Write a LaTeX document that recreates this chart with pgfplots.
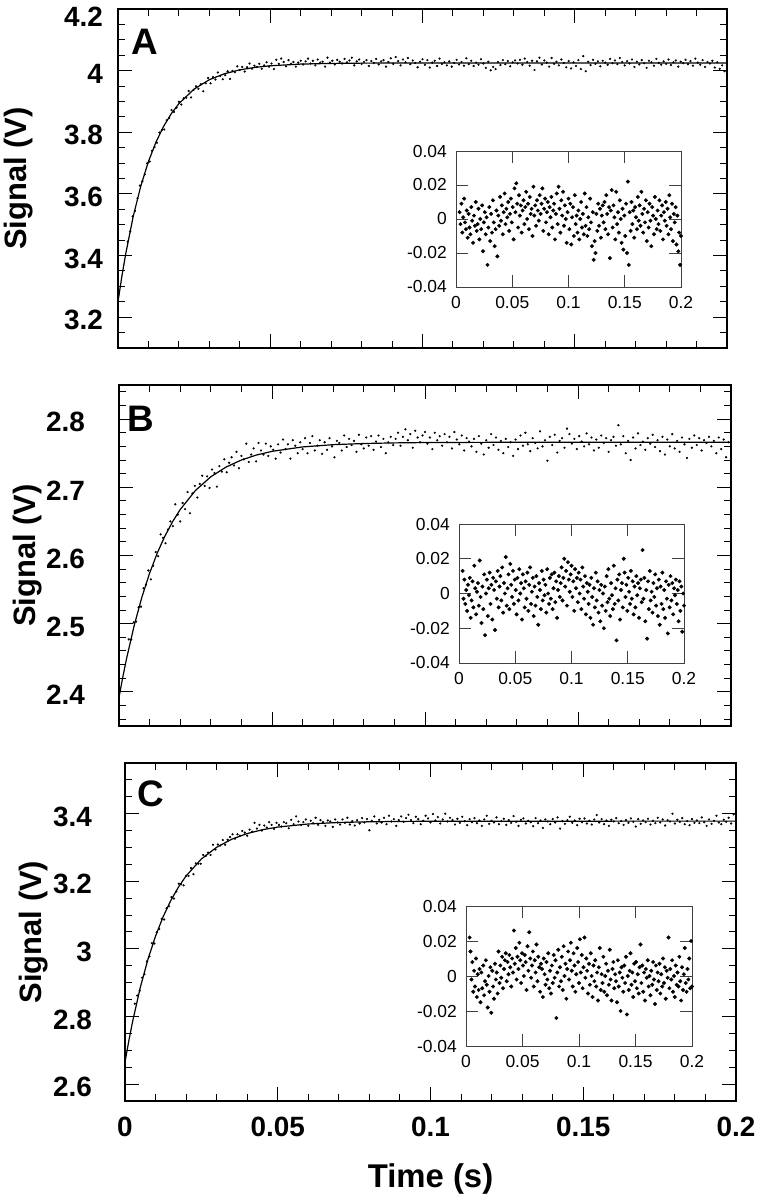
\documentclass[border=0pt]{standalone}
\usepackage{fontspec}
\setmainfont{Liberation Sans}
\usepackage{pgfplots}
\usepackage{pgfplotstable}
\pgfplotsset{compat=1.18}

\pgfplotstableread[row sep=\\]{
t r y\\
0.0032 0.004 3.445\\ 0.0040 -0.003 3.478\\ 0.0048 0.009 3.527\\ 0.0056 -0.008 3.545\\ 0.0064 0.001 3.586\\
0.0072 0.012 3.627\\ 0.0080 -0.002 3.641\\ 0.0088 -0.006 3.663\\ 0.0096 0.005 3.699\\ 0.0104 -0.011 3.705\\
0.0112 0.003 3.740\\ 0.0120 -0.005 3.752\\ 0.0128 -0.009 3.766\\ 0.0136 0.007 3.799\\ 0.0144 -0.001 3.807\\
0.0152 -0.014 3.809\\ 0.0160 0.002 3.839\\ 0.0168 -0.004 3.846\\ 0.0176 0.010 3.872\\ 0.0184 -0.007 3.866\\
0.0192 -0.003 3.880\\ 0.0200 0.006 3.899\\ 0.0208 -0.012 3.890\\ 0.0216 0 3.910\\ 0.0224 -0.006 3.912\\
0.0232 0.008 3.934\\ 0.0240 -0.019 3.913\\ 0.0248 -0.002 3.937\\ 0.0256 0.004 3.949\\ 0.0264 -0.009 3.941\\
0.0272 0.001 3.956\\ 0.0280 -0.027 3.933\\ 0.0288 -0.005 3.959\\ 0.0296 0.007 3.976\\ 0.0304 -0.013 3.959\\
0.0312 0.003 3.979\\ 0.0320 -0.008 3.971\\ 0.0328 0.011 3.994\\ 0.0336 -0.002 3.983\\ 0.0344 -0.016 3.972\\
0.0352 -0.006 3.985\\ 0.0360 0.005 3.998\\ 0.0368 -0.022 3.973\\ 0.0376 0.002 3.999\\ 0.0384 -0.004 3.995\\
0.0392 0.013 4.014\\ 0.0400 -0.001 4.002\\ 0.0408 0.008 4.012\\ 0.0416 -0.009 3.997\\ 0.0424 0.004 4.011\\
0.0432 0.015 4.023\\ 0.0440 -0.003 4.006\\ 0.0448 0.006 4.016\\ 0.0456 0.001 4.012\\ 0.0464 0.010 4.022\\
0.0472 -0.007 4.006\\ 0.0480 0.003 4.017\\ 0.0488 0.012 4.027\\ 0.0496 -0.002 4.013\\ 0.0504 0.007 4.023\\
0.0512 -0.012 4.005\\ 0.0520 0.018 4.035\\ 0.0528 0.004 4.022\\ 0.0536 0.021 4.039\\ 0.0544 0.009 4.028\\
0.0552 -0.005 4.014\\ 0.0560 0.014 4.034\\ 0.0568 0.002 4.022\\ 0.0576 0.008 4.028\\ 0.0584 -0.008 4.013\\
0.0592 0.005 4.026\\ 0.0600 0.011 4.032\\ 0.0608 -0.003 4.020\\ 0.0616 0.007 4.030\\ 0.0624 0.016 4.039\\
0.0632 0 4.023\\ 0.0640 0.009 4.032\\ 0.0648 -0.006 4.017\\ 0.0656 0.013 4.036\\ 0.0664 0.003 4.026\\
0.0672 0.006 4.029\\ 0.0680 -0.010 4.013\\ 0.0688 0.019 4.042\\ 0.0696 0.002 4.026\\ 0.0704 0.008 4.032\\
0.0712 -0.004 4.020\\ 0.0720 0.011 4.035\\ 0.0728 0.005 4.029\\ 0.0736 -0.001 4.023\\ 0.0744 0.014 4.038\\
0.0752 0.003 4.027\\ 0.0760 0.009 4.033\\ 0.0768 0.018 4.042\\ 0.0776 -0.007 4.017\\ 0.0784 0.006 4.030\\
0.0792 0.012 4.036\\ 0.0800 -0.002 4.022\\ 0.0808 0.004 4.028\\ 0.0816 0.010 4.034\\ 0.0824 -0.009 4.015\\
0.0832 0.007 4.031\\ 0.0840 0.001 4.025\\ 0.0848 0.013 4.038\\ 0.0856 -0.005 4.020\\ 0.0864 0.005 4.030\\
0.0872 0.009 4.034\\ 0.0880 -0.012 4.013\\ 0.0888 0.003 4.028\\ 0.0896 0.015 4.040\\ 0.0904 -0.003 4.022\\
0.0912 0.019 4.044\\ 0.0920 0.006 4.031\\ 0.0928 -0.008 4.017\\ 0.0936 0.011 4.036\\ 0.0944 0.002 4.027\\
0.0952 0.016 4.041\\ 0.0960 -0.004 4.021\\ 0.0968 0.008 4.033\\ 0.0976 0 4.025\\ 0.0984 -0.014 4.011\\
0.0992 0.004 4.029\\ 0.1000 0.012 4.037\\ 0.1008 -0.006 4.019\\ 0.1016 0.009 4.034\\ 0.1024 -0.015 4.010\\
0.1032 0.001 4.026\\ 0.1040 0.007 4.032\\ 0.1048 -0.010 4.015\\ 0.1056 0.014 4.039\\ 0.1064 -0.003 4.022\\
0.1072 0.002 4.027\\ 0.1080 -0.008 4.017\\ 0.1088 0.005 4.030\\ 0.1096 -0.012 4.013\\ 0.1104 0 4.025\\
0.1112 0.010 4.035\\ 0.1120 -0.005 4.020\\ 0.1128 0.003 4.028\\ 0.1136 -0.009 4.016\\ 0.1144 0.015 4.040\\
0.1152 -0.004 4.021\\ 0.1160 0.007 4.032\\ 0.1168 -0.010 4.015\\ 0.1176 0.001 4.026\\ 0.1184 -0.006 4.019\\
0.1192 0.012 4.037\\ 0.1200 -0.002 4.023\\ 0.1208 -0.016 4.009\\ 0.1216 0.004 4.029\\ 0.1224 -0.024 4.001\\
0.1232 -0.013 4.012\\ 0.1240 -0.020 4.005\\ 0.1248 0.003 4.028\\ 0.1256 -0.007 4.018\\ 0.1264 0.009 4.034\\
0.1272 -0.004 4.021\\ 0.1280 0.006 4.031\\ 0.1288 -0.011 4.014\\ 0.1296 0.002 4.027\\ 0.1304 0.008 4.033\\
0.1312 -0.002 4.023\\ 0.1320 0.010 4.035\\ 0.1328 -0.006 4.019\\ 0.1336 0.014 4.039\\ 0.1344 0.003 4.028\\
0.1352 -0.009 4.016\\ 0.1360 0.007 4.032\\ 0.1368 -0.023 4.002\\ 0.1376 0.005 4.030\\ 0.1384 0.017 4.042\\
0.1392 -0.005 4.020\\ 0.1400 0.008 4.033\\ 0.1408 0.001 4.026\\ 0.1416 -0.012 4.013\\ 0.1424 0.016 4.041\\
0.1432 -0.003 4.022\\ 0.1440 0.004 4.029\\ 0.1448 -0.008 4.017\\ 0.1456 0.011 4.036\\ 0.1464 0 4.025\\
0.1472 -0.014 4.011\\ 0.1480 0.006 4.031\\ 0.1488 -0.018 4.007\\ 0.1496 0.002 4.027\\ 0.1504 -0.010 4.015\\
0.1512 0.009 4.034\\ 0.1520 -0.020 4.005\\ 0.1528 0.022 4.047\\ 0.1536 -0.027 3.998\\ 0.1544 0.004 4.029\\
0.1552 -0.007 4.018\\ 0.1560 0.010 4.035\\ 0.1568 -0.003 4.022\\ 0.1576 0.005 4.030\\ 0.1584 -0.011 4.014\\
0.1592 0.007 4.032\\ 0.1600 0.001 4.026\\ 0.1608 -0.006 4.019\\ 0.1616 0.013 4.038\\ 0.1624 -0.001 4.024\\
0.1632 0.008 4.033\\ 0.1640 -0.004 4.021\\ 0.1648 0.016 4.041\\ 0.1656 0.003 4.028\\ 0.1664 -0.008 4.017\\
0.1672 0.006 4.031\\ 0.1680 -0.002 4.023\\ 0.1688 0.011 4.036\\ 0.1696 -0.013 4.012\\ 0.1704 0.004 4.029\\
0.1712 -0.005 4.020\\ 0.1720 0.009 4.034\\ 0.1728 -0.001 4.024\\ 0.1736 -0.016 4.009\\ 0.1744 0.007 4.032\\
0.1752 0.002 4.027\\ 0.1760 -0.009 4.016\\ 0.1768 0.013 4.038\\ 0.1776 0 4.025\\ 0.1784 -0.006 4.019\\
0.1792 0.005 4.030\\ 0.1800 -0.003 4.022\\ 0.1808 0.011 4.036\\ 0.1816 -0.007 4.018\\ 0.1824 0.002 4.027\\
0.1832 0.008 4.033\\ 0.1840 -0.012 4.013\\ 0.1848 0.004 4.029\\ 0.1856 -0.001 4.024\\ 0.1864 0.010 4.035\\
0.1872 -0.004 4.021\\ 0.1880 0.006 4.031\\ 0.1888 -0.009 4.016\\ 0.1896 0.014 4.039\\ 0.1904 0.001 4.026\\
0.1912 -0.006 4.019\\ 0.1920 0.009 4.034\\ 0.1928 -0.013 4.012\\ 0.1936 0.003 4.028\\ 0.1944 -0.002 4.023\\
0.1952 0.007 4.032\\ 0.1960 -0.015 4.010\\ 0.1968 0.002 4.027\\ 0.1976 -0.019 4.006\\ 0.1984 -0.008 4.017\\
0.1992 -0.027 3.998\\ 0.2000 -0.010 4.015\\
}\tabA

\pgfplotstableread[row sep=\\]{
t r y\\
0.0032 0.013 2.477\\ 0.0040 -0.003 2.477\\ 0.0048 0.008 2.502\\ 0.0056 -0.006 2.503\\ 0.0064 0.002 2.524\\
0.0072 -0.010 2.525\\ 0.0080 0.005 2.552\\ 0.0088 -0.001 2.557\\ 0.0096 0.009 2.578\\ 0.0104 -0.014 2.565\\
0.0112 -0.004 2.585\\ 0.0120 0.007 2.605\\ 0.0128 -0.008 2.599\\ 0.0136 0.016 2.631\\ 0.0144 0.003 2.626\\
0.0152 -0.012 2.618\\ 0.0160 0.001 2.638\\ 0.0168 0.006 2.650\\ 0.0176 -0.007 2.643\\ 0.0184 0.019 2.675\\
0.0192 -0.002 2.660\\ 0.0200 -0.017 2.650\\ 0.0208 0.004 2.677\\ 0.0216 -0.009 2.668\\ 0.0224 0.011 2.693\\
0.0232 -0.024 2.662\\ 0.0240 0 2.691\\ 0.0248 0.008 2.702\\ 0.0256 -0.013 2.685\\ 0.0264 0.003 2.705\\
0.0272 0.012 2.717\\ 0.0280 -0.006 2.702\\ 0.0288 0.005 2.716\\ 0.0296 -0.015 2.699\\ 0.0304 0.009 2.726\\
0.0312 0.002 2.721\\ 0.0320 -0.021 2.701\\ 0.0328 0.007 2.731\\ 0.0336 -0.003 2.723\\ 0.0344 0.013 2.741\\
0.0352 -0.008 2.722\\ 0.0360 0.004 2.736\\ 0.0368 0.010 2.744\\ 0.0376 -0.004 2.732\\ 0.0384 0.015 2.752\\
0.0392 -0.011 2.728\\ 0.0400 0.006 2.746\\ 0.0408 0 2.741\\ 0.0416 0.021 2.764\\ 0.0424 -0.007 2.737\\
0.0432 0.003 2.748\\ 0.0440 0.011 2.757\\ 0.0448 -0.009 2.738\\ 0.0456 0.017 2.765\\ 0.0464 0.005 2.754\\
0.0472 -0.002 2.748\\ 0.0480 0.013 2.764\\ 0.0488 -0.006 2.746\\ 0.0496 0.008 2.760\\ 0.0504 0.002 2.755\\
0.0512 -0.012 2.742\\ 0.0520 0.009 2.763\\ 0.0528 -0.004 2.751\\ 0.0536 0.014 2.770\\ 0.0544 0 2.756\\
0.0552 0.006 2.763\\ 0.0560 -0.015 2.742\\ 0.0568 0.011 2.769\\ 0.0576 0.003 2.761\\ 0.0584 -0.008 2.750\\
0.0592 0.007 2.766\\ 0.0600 -0.003 2.756\\ 0.0608 0.012 2.772\\ 0.0616 -0.010 2.750\\ 0.0624 0.005 2.765\\
0.0632 0.015 2.775\\ 0.0640 -0.006 2.754\\ 0.0648 0.001 2.761\\ 0.0656 0.009 2.769\\ 0.0664 -0.013 2.749\\
0.0672 0.004 2.766\\ 0.0680 -0.007 2.755\\ 0.0688 0.010 2.772\\ 0.0696 -0.002 2.760\\ 0.0704 -0.018 2.744\\
0.0712 0.006 2.768\\ 0.0720 0.002 2.765\\ 0.0728 -0.009 2.754\\ 0.0736 0.013 2.776\\ 0.0744 -0.004 2.759\\
0.0752 0.008 2.771\\ 0.0760 -0.001 2.762\\ 0.0768 0.005 2.768\\ 0.0776 -0.011 2.752\\ 0.0784 0.014 2.777\\
0.0792 0 2.763\\ 0.0800 -0.006 2.757\\ 0.0808 0.009 2.773\\ 0.0816 -0.003 2.761\\ 0.0824 0.011 2.775\\
0.0832 -0.009 2.755\\ 0.0840 0.003 2.767\\ 0.0848 0.012 2.776\\ 0.0856 -0.005 2.759\\ 0.0864 0.007 2.771\\
0.0872 -0.014 2.750\\ 0.0880 0.002 2.766\\ 0.0888 0.010 2.774\\ 0.0896 -0.002 2.762\\ 0.0904 0.006 2.771\\
0.0912 0.015 2.780\\ 0.0920 -0.004 2.761\\ 0.0928 0.009 2.774\\ 0.0936 0.020 2.785\\ 0.0944 0.004 2.769\\
0.0952 0.013 2.778\\ 0.0960 -0.007 2.758\\ 0.0968 0.018 2.783\\ 0.0976 0.008 2.773\\ 0.0984 0.001 2.766\\
0.0992 0.011 2.776\\ 0.1000 0.016 2.781\\ 0.1008 -0.002 2.764\\ 0.1016 0.007 2.773\\ 0.1024 -0.010 2.756\\
0.1032 0.014 2.780\\ 0.1040 0.003 2.769\\ 0.1048 0.009 2.775\\ 0.1056 -0.005 2.761\\ 0.1064 0.012 2.778\\
0.1072 0 2.766\\ 0.1080 0.008 2.774\\ 0.1088 -0.009 2.757\\ 0.1096 0.015 2.781\\ 0.1104 0.004 2.770\\
0.1112 -0.003 2.763\\ 0.1120 0.010 2.776\\ 0.1128 -0.012 2.754\\ 0.1136 0.006 2.772\\ 0.1144 0.001 2.767\\
0.1152 -0.006 2.760\\ 0.1160 0.005 2.771\\ 0.1168 -0.014 2.752\\ 0.1176 0.009 2.775\\ 0.1184 -0.002 2.764\\
0.1192 -0.018 2.748\\ 0.1200 0.003 2.769\\ 0.1208 -0.008 2.758\\ 0.1216 0.012 2.778\\ 0.1224 -0.004 2.762\\
0.1232 0.007 2.773\\ 0.1240 -0.011 2.755\\ 0.1248 0.002 2.768\\ 0.1256 -0.016 2.750\\ 0.1264 0.005 2.771\\
0.1272 -0.007 2.759\\ 0.1280 0 2.766\\ 0.1288 -0.020 2.746\\ 0.1296 0.004 2.770\\ 0.1304 -0.010 2.756\\
0.1312 0.010 2.776\\ 0.1320 -0.005 2.761\\ 0.1328 0.014 2.780\\ 0.1336 -0.003 2.763\\ 0.1344 -0.013 2.753\\
0.1352 0.006 2.772\\ 0.1360 -0.001 2.765\\ 0.1368 -0.009 2.757\\ 0.1376 0.016 2.782\\ 0.1384 -0.006 2.760\\
0.1392 0.003 2.769\\ 0.1400 -0.027 2.739\\ 0.1408 0.008 2.774\\ 0.1416 -0.004 2.762\\ 0.1424 0.011 2.777\\
0.1432 -0.015 2.751\\ 0.1440 0.002 2.768\\ 0.1448 0.006 2.772\\ 0.1456 -0.008 2.758\\ 0.1464 0.020 2.786\\
0.1472 0.012 2.778\\ 0.1480 -0.002 2.764\\ 0.1488 0.005 2.771\\ 0.1496 -0.010 2.756\\ 0.1504 0.009 2.775\\
0.1512 0.001 2.767\\ 0.1520 -0.006 2.760\\ 0.1528 0.013 2.779\\ 0.1536 -0.003 2.763\\ 0.1544 0.007 2.773\\
0.1552 -0.012 2.754\\ 0.1560 0.004 2.770\\ 0.1568 -0.008 2.758\\ 0.1576 0.010 2.776\\ 0.1584 -0.001 2.765\\
0.1592 0.006 2.772\\ 0.1600 -0.014 2.752\\ 0.1608 0.003 2.769\\ 0.1616 0.008 2.774\\ 0.1624 -0.005 2.761\\
0.1632 0.025 2.791\\ 0.1640 -0.003 2.763\\ 0.1648 0.009 2.775\\ 0.1656 -0.016 2.750\\ 0.1664 0.002 2.768\\
0.1672 -0.026 2.740\\ 0.1680 0.007 2.773\\ 0.1688 -0.009 2.757\\ 0.1696 0.013 2.779\\ 0.1704 -0.004 2.762\\
0.1712 0.001 2.767\\ 0.1720 -0.011 2.755\\ 0.1728 0.006 2.772\\ 0.1736 -0.002 2.764\\ 0.1744 0.011 2.777\\
0.1752 -0.007 2.759\\ 0.1760 0.003 2.769\\ 0.1768 -0.013 2.753\\ 0.1776 0.008 2.774\\ 0.1784 -0.018 2.748\\
0.1792 0.004 2.770\\ 0.1800 -0.006 2.760\\ 0.1808 0.012 2.778\\ 0.1816 -0.009 2.757\\ 0.1824 0.002 2.768\\
0.1832 -0.014 2.752\\ 0.1840 0.007 2.773\\ 0.1848 -0.003 2.763\\ 0.1856 -0.023 2.743\\ 0.1864 0.005 2.771\\
0.1872 -0.008 2.758\\ 0.1880 0.010 2.776\\ 0.1888 -0.004 2.762\\ 0.1896 0.006 2.772\\ 0.1904 -0.012 2.754\\
0.1912 0.003 2.769\\ 0.1920 -0.001 2.765\\ 0.1928 0.008 2.774\\ 0.1936 -0.006 2.760\\ 0.1944 0.002 2.768\\
0.1952 -0.016 2.750\\ 0.1960 0.007 2.773\\ 0.1968 -0.010 2.756\\ 0.1976 0.004 2.770\\ 0.1984 -0.022 2.744\\
0.1992 0 2.766\\ 0.2000 -0.007 2.759\\
}\tabB

\pgfplotstableread[row sep=\\]{
t r y\\
0.0032 0.022 2.838\\ 0.0040 0.014 2.862\\ 0.0048 -0.002 2.876\\ 0.0056 0.008 2.915\\ 0.0064 -0.009 2.925\\
0.0072 0.003 2.963\\ 0.0080 -0.006 2.978\\ 0.0088 0.010 3.017\\ 0.0096 -0.012 3.016\\ 0.0104 0.001 3.049\\
0.0112 -0.008 3.059\\ 0.0120 0.004 3.089\\ 0.0128 -0.015 3.087\\ 0.0136 0.002 3.120\\ 0.0144 -0.007 3.126\\
0.0152 0.006 3.153\\ 0.0160 -0.011 3.149\\ 0.0168 -0.003 3.170\\ 0.0176 0.009 3.193\\ 0.0184 -0.005 3.191\\
0.0192 -0.018 3.188\\ 0.0200 0 3.216\\ 0.0208 -0.009 3.216\\ 0.0216 0.005 3.239\\ 0.0224 -0.021 3.221\\
0.0232 0.003 3.253\\ 0.0240 -0.006 3.252\\ 0.0248 -0.013 3.252\\ 0.0256 0.007 3.278\\ 0.0264 -0.002 3.275\\
0.0272 0.002 3.285\\ 0.0280 -0.010 3.278\\ 0.0288 0.014 3.308\\ 0.0296 -0.004 3.294\\ 0.0304 0.006 3.309\\
0.0312 -0.001 3.306\\ 0.0320 0.011 3.322\\ 0.0328 -0.007 3.308\\ 0.0336 0.004 3.323\\ 0.0344 0.009 3.331\\
0.0352 0.013 3.339\\ 0.0360 -0.003 3.326\\ 0.0368 0.008 3.339\\ 0.0376 0.001 3.335\\ 0.0384 0.012 3.349\\
0.0392 0.005 3.344\\ 0.0400 -0.006 3.335\\ 0.0408 0.010 3.353\\ 0.0416 0.002 3.347\\ 0.0424 0.026 3.373\\
0.0432 0.007 3.356\\ 0.0440 0.016 3.367\\ 0.0448 -0.002 3.350\\ 0.0456 0.011 3.365\\ 0.0464 0.004 3.359\\
0.0472 0.019 3.375\\ 0.0480 0.009 3.367\\ 0.0488 -0.004 3.355\\ 0.0496 0.013 3.373\\ 0.0504 0.006 3.367\\
0.0512 0 3.362\\ 0.0520 0.012 3.375\\ 0.0528 0.008 3.372\\ 0.0536 -0.008 3.357\\ 0.0544 0.017 3.382\\
0.0552 0.003 3.369\\ 0.0560 0.025 3.392\\ 0.0568 0.010 3.377\\ 0.0576 -0.001 3.367\\ 0.0584 0.006 3.375\\
0.0592 0.014 3.383\\ 0.0600 -0.006 3.364\\ 0.0608 0.009 3.379\\ 0.0616 0.002 3.372\\ 0.0624 0.018 3.388\\
0.0632 -0.003 3.367\\ 0.0640 0.011 3.381\\ 0.0648 0.005 3.375\\ 0.0656 -0.009 3.364\\ 0.0664 0.007 3.380\\
0.0672 0.004 3.377\\ 0.0680 -0.012 3.361\\ 0.0688 0.010 3.383\\ 0.0696 0.001 3.374\\ 0.0704 -0.005 3.368\\
0.0712 0.008 3.383\\ 0.0720 -0.002 3.373\\ 0.0728 0.013 3.388\\ 0.0736 -0.007 3.368\\ 0.0744 0.003 3.378\\
0.0752 -0.010 3.365\\ 0.0760 0.006 3.381\\ 0.0768 -0.004 3.371\\ 0.0776 0.012 3.387\\ 0.0784 -0.001 3.374\\
0.0792 0.009 3.384\\ 0.0800 -0.024 3.351\\ 0.0808 0.002 3.379\\ 0.0816 0.015 3.392\\ 0.0824 -0.006 3.371\\
0.0832 0.005 3.382\\ 0.0840 -0.003 3.374\\ 0.0848 0.011 3.388\\ 0.0856 -0.008 3.369\\ 0.0864 0.017 3.394\\
0.0872 0 3.377\\ 0.0880 0.007 3.384\\ 0.0888 -0.013 3.364\\ 0.0896 0.004 3.381\\ 0.0904 0.014 3.392\\
0.0912 -0.002 3.376\\ 0.0920 0.009 3.387\\ 0.0928 0.019 3.397\\ 0.0936 0.003 3.381\\ 0.0944 -0.006 3.372\\
0.0952 0.013 3.391\\ 0.0960 0.006 3.384\\ 0.0968 -0.009 3.369\\ 0.0976 0.001 3.379\\ 0.0984 0.016 3.394\\
0.0992 0.008 3.386\\ 0.1000 -0.004 3.374\\ 0.1008 0.021 3.399\\ 0.1016 0.002 3.380\\ 0.1024 0.012 3.390\\
0.1032 -0.007 3.371\\ 0.1040 0.005 3.383\\ 0.1048 0.022 3.400\\ 0.1056 -0.001 3.377\\ 0.1064 0.010 3.388\\
0.1072 0.003 3.381\\ 0.1080 -0.010 3.368\\ 0.1088 0.007 3.385\\ 0.1096 -0.005 3.373\\ 0.1104 0.013 3.391\\
0.1112 0 3.378\\ 0.1120 -0.012 3.366\\ 0.1128 0.006 3.384\\ 0.1136 -0.003 3.375\\ 0.1144 0.009 3.387\\
0.1152 -0.006 3.372\\ 0.1160 0.002 3.380\\ 0.1168 -0.014 3.364\\ 0.1176 0.005 3.383\\ 0.1184 0.016 3.394\\
0.1192 -0.008 3.370\\ 0.1200 0.001 3.379\\ 0.1208 -0.004 3.374\\ 0.1216 0.011 3.389\\ 0.1224 -0.009 3.369\\
0.1232 0 3.378\\ 0.1240 0.007 3.385\\ 0.1248 -0.011 3.367\\ 0.1256 0.003 3.381\\ 0.1264 -0.005 3.373\\
0.1272 0.015 3.393\\ 0.1280 -0.002 3.376\\ 0.1288 -0.014 3.364\\ 0.1296 0.004 3.382\\ 0.1304 0.008 3.386\\
0.1312 -0.007 3.371\\ 0.1320 0.001 3.379\\ 0.1328 -0.003 3.375\\ 0.1336 -0.015 3.363\\ 0.1344 0.009 3.387\\
0.1352 -0.006 3.372\\ 0.1360 0.002 3.380\\ 0.1368 -0.020 3.358\\ 0.1376 0.005 3.383\\ 0.1384 -0.001 3.377\\
0.1392 -0.009 3.369\\ 0.1400 0.006 3.384\\ 0.1408 -0.004 3.374\\ 0.1416 0.011 3.389\\ 0.1424 -0.022 3.356\\
0.1432 0 3.378\\ 0.1440 -0.008 3.370\\ 0.1448 0.003 3.381\\ 0.1456 0.013 3.391\\ 0.1464 -0.005 3.373\\
0.1472 0.002 3.380\\ 0.1480 -0.012 3.366\\ 0.1488 0.007 3.385\\ 0.1496 -0.003 3.375\\ 0.1504 0.008 3.386\\
0.1512 -0.007 3.371\\ 0.1520 0.001 3.379\\ 0.1528 -0.010 3.368\\ 0.1536 0.005 3.383\\ 0.1544 0.018 3.396\\
0.1552 -0.004 3.374\\ 0.1560 0.006 3.384\\ 0.1568 -0.009 3.369\\ 0.1576 0.002 3.380\\ 0.1584 -0.014 3.364\\
0.1592 0.004 3.382\\ 0.1600 -0.001 3.377\\ 0.1608 0.009 3.387\\ 0.1616 -0.006 3.372\\ 0.1624 0 3.378\\
0.1632 -0.011 3.367\\ 0.1640 0.003 3.381\\ 0.1648 -0.005 3.373\\ 0.1656 0.008 3.386\\ 0.1664 -0.002 3.376\\
0.1672 -0.016 3.362\\ 0.1680 0.006 3.384\\ 0.1688 -0.008 3.370\\ 0.1696 0.002 3.380\\ 0.1704 -0.003 3.375\\
0.1712 0.007 3.385\\ 0.1720 -0.010 3.368\\ 0.1728 0.001 3.379\\ 0.1736 -0.006 3.372\\ 0.1744 0.010 3.388\\
0.1752 -0.004 3.374\\ 0.1760 0.005 3.383\\ 0.1768 -0.013 3.365\\ 0.1776 0.003 3.381\\ 0.1784 -0.001 3.377\\
0.1792 0.022 3.400\\ 0.1800 -0.007 3.371\\ 0.1808 0.004 3.382\\ 0.1816 -0.002 3.376\\ 0.1824 0.009 3.387\\
0.1832 -0.009 3.369\\ 0.1840 0 3.378\\ 0.1848 -0.012 3.366\\ 0.1856 0.006 3.384\\ 0.1864 -0.005 3.373\\
0.1872 0.002 3.380\\ 0.1880 -0.006 3.372\\ 0.1888 0.011 3.389\\ 0.1896 -0.003 3.375\\ 0.1904 -0.014 3.364\\
0.1912 0.005 3.383\\ 0.1920 -0.008 3.370\\ 0.1928 0.001 3.379\\ 0.1936 0.016 3.394\\ 0.1944 -0.004 3.374\\
0.1952 -0.009 3.369\\ 0.1960 0.004 3.382\\ 0.1968 -0.002 3.376\\ 0.1976 0.010 3.388\\ 0.1984 -0.007 3.371\\
0.1992 0.020 3.398\\ 0.2000 -0.006 3.372\\
}\tabC

\pgfplotsset{
  mainax/.style={
    scale only axis, xmin=0, xmax=0.2, clip=false,
    scaled ticks=false,
    axis line style={line width=1.2bp},
    tick style={line width=1bp, black},
    major tick length=14bp, minor tick length=7bp,
    tick align=inside,
    xtick={0,0.05,0.1,0.15,0.2},
    minor xtick={0.01,0.02,0.03,0.04,0.06,0.07,0.08,0.09,0.11,0.12,0.13,0.14,0.16,0.17,0.18,0.19},
    xticklabels={},
    tick label style={font=\bfseries\fontsize{28}{28}\selectfont},
    yticklabel style={anchor=east, inner sep=0pt, xshift=-15bp, yshift=-3bp},
    xticklabel style={anchor=north, inner sep=0pt, yshift=-16bp},
    ylabel={Signal (V)},
    ylabel style={font=\bfseries\fontsize{31}{31}\selectfont, anchor=center},
  },
  inax/.style={
    scale only axis, xmin=0, xmax=0.2, ymin=-0.04, ymax=0.04, clip=false,
    scaled ticks=false, scaled y ticks=false, scaled x ticks=false,
    axis line style={line width=0.7bp, black!75},
    tick style={line width=0.7bp, black!75},
    major tick length=12bp, tick align=inside,
    xtick={0,0.05,0.1,0.15,0.2}, xticklabels={0,0.05,0.1,0.15,0.2},
    ytick={-0.04,-0.02,0,0.02,0.04}, yticklabels={-0.04,-0.02,0,0.02,0.04},
    tick label style={font=\fontsize{17.5}{17.5}\selectfont},
    yticklabel style={anchor=east, inner sep=0pt, xshift=-9bp},
    xticklabel style={anchor=north, inner sep=0pt, yshift=-9bp},
  },
  dots/.style={only marks, mark=*, black, mark size=0.9bp, mark options={draw=none}},
  indots/.style={only marks, mark=*, black, mark size=1.8bp, mark options={draw=none}},
  fit/.style={black, line width=1.2bp, no marks},
}

\begin{document}
\begin{tikzpicture}
\path[use as bounding box] (0,0) rectangle (758bp,1200bp);

% ---------- Panel A ----------
\begin{axis}[mainax, at={(118bp,852bp)}, anchor=south west, width=609bp, height=339bp,
  ymin=3.1, ymax=4.2,
  ytick={3.2,3.4,3.6,3.8,4,4.2}, yticklabels={3.2,3.4,3.6,3.8,4,\raisebox{-14.5bp}[0pt][0pt]{4.2}},
  minor ytick={3.15,3.25,3.3,3.35,3.45,3.5,3.55,3.65,3.7,3.75,3.85,3.9,3.95,4.05,4.1,4.15},
  ylabel style={at={(axis description cs:-0.164,0.5)}}]
\addplot[dots] table[x=t,y=y]{\tabA};
\addplot[fit] coordinates {(0,3.250) (0.00125,3.3311) (0.0025,3.4037) (0.005,3.5271) (0.0075,3.6259) (0.01,3.7052) (0.0125,3.7686) (0.015,3.8195) (0.0175,3.8603) (0.02,3.8930) (0.025,3.9402) (0.03,3.9705) (0.035,3.9900) (0.04,4.0025) (0.045,4.0105) (0.05,4.0157) (0.06,4.0212) (0.07,4.0234) (0.08,4.0243) (0.1,4.0249) (0.2,4.025)};
\node[font=\bfseries\fontsize{37}{37}\selectfont, inner sep=0pt] at (rel axis cs:0.0443,0.904) {A};
\end{axis}

% ---------- Panel B ----------
\begin{axis}[mainax, at={(119bp,474bp)}, anchor=south west, width=612bp, height=341bp,
  ymin=2.35, ymax=2.85,
  ytick={2.4,2.5,2.6,2.7,2.8}, yticklabels={2.4,2.5,2.6,2.7,2.8},
  minor ytick={2.36,2.38,2.42,2.44,2.46,2.48,2.52,2.54,2.56,2.58,2.62,2.64,2.66,2.68,2.72,2.74,2.76,2.78,2.82,2.84},
  yticklabel style={xshift=-19bp},
  ylabel style={at={(axis description cs:-0.150,0.5)}}]
\addplot[dots] table[x=t,y=y]{\tabB};
\addplot[fit] coordinates {(0,2.392) (0.00125,2.4219) (0.0025,2.4494) (0.005,2.4980) (0.0075,2.5392) (0.01,2.5740) (0.0125,2.6035) (0.015,2.6284) (0.0175,2.6495) (0.02,2.6674) (0.025,2.6954) (0.03,2.7154) (0.035,2.7297) (0.04,2.7400) (0.045,2.7474) (0.05,2.7527) (0.06,2.7592) (0.07,2.7625) (0.08,2.7642) (0.09,2.7651) (0.1,2.7656) (0.12,2.7659) (0.2,2.766)};
\node[font=\bfseries\fontsize{37}{37}\selectfont, inner sep=0pt] at (rel axis cs:0.036,0.902) {B};
\end{axis}

% ---------- Panel C ----------
\begin{axis}[mainax, at={(125bp,99bp)}, anchor=south west, width=611bp, height=338bp,
  ymin=2.55, ymax=3.55,
  ytick={2.6,2.8,3,3.2,3.4}, yticklabels={2.6,2.8,3,3.2,3.4},
  minor ytick={2.65,2.7,2.75,2.85,2.9,2.95,3.05,3.1,3.15,3.25,3.3,3.35,3.45,3.5},
  xticklabels={0,0.05,0.1,0.15,0.2},
  yticklabel style={xshift=-18bp},
  ylabel style={at={(axis description cs:-0.149,0.5)}},
  xlabel={Time (s)},
  xlabel style={font=\bfseries\fontsize{33}{33}\selectfont, at={(axis description cs:0.5,-0.231)}, anchor=center}]
\addplot[dots] table[x=t,y=y]{\tabC};
\addplot[fit] coordinates {(0,2.665) (0.00125,2.7280) (0.0025,2.7855) (0.005,2.8857) (0.0075,2.9689) (0.01,3.0380) (0.0125,3.0955) (0.015,3.1433) (0.0175,3.1830) (0.02,3.2159) (0.025,3.2661) (0.03,3.3007) (0.035,3.3247) (0.04,3.3412) (0.045,3.3526) (0.05,3.3604) (0.06,3.3696) (0.07,3.3740) (0.08,3.3761) (0.09,3.3771) (0.1,3.3776) (0.12,3.3779) (0.2,3.378)};
\node[font=\bfseries\fontsize{37}{37}\selectfont, inner sep=0pt] at (rel axis cs:0.0426,0.910) {C};
\end{axis}

% ---------- Insets ----------
\begin{axis}[inax, at={(456bp,913bp)}, anchor=south west, width=225bp, height=136bp]
\addplot[indots] table[x=t,y=r]{\tabA};
\end{axis}
\begin{axis}[inax, at={(459bp,537bp)}, anchor=south west, width=225bp, height=139bp]
\addplot[indots] table[x=t,y=r]{\tabB};
\end{axis}
\begin{axis}[inax, at={(466bp,154bp)}, anchor=south west, width=226bp, height=140bp]
\addplot[indots] table[x=t,y=r]{\tabC};
\end{axis}
\end{tikzpicture}
\end{document}
